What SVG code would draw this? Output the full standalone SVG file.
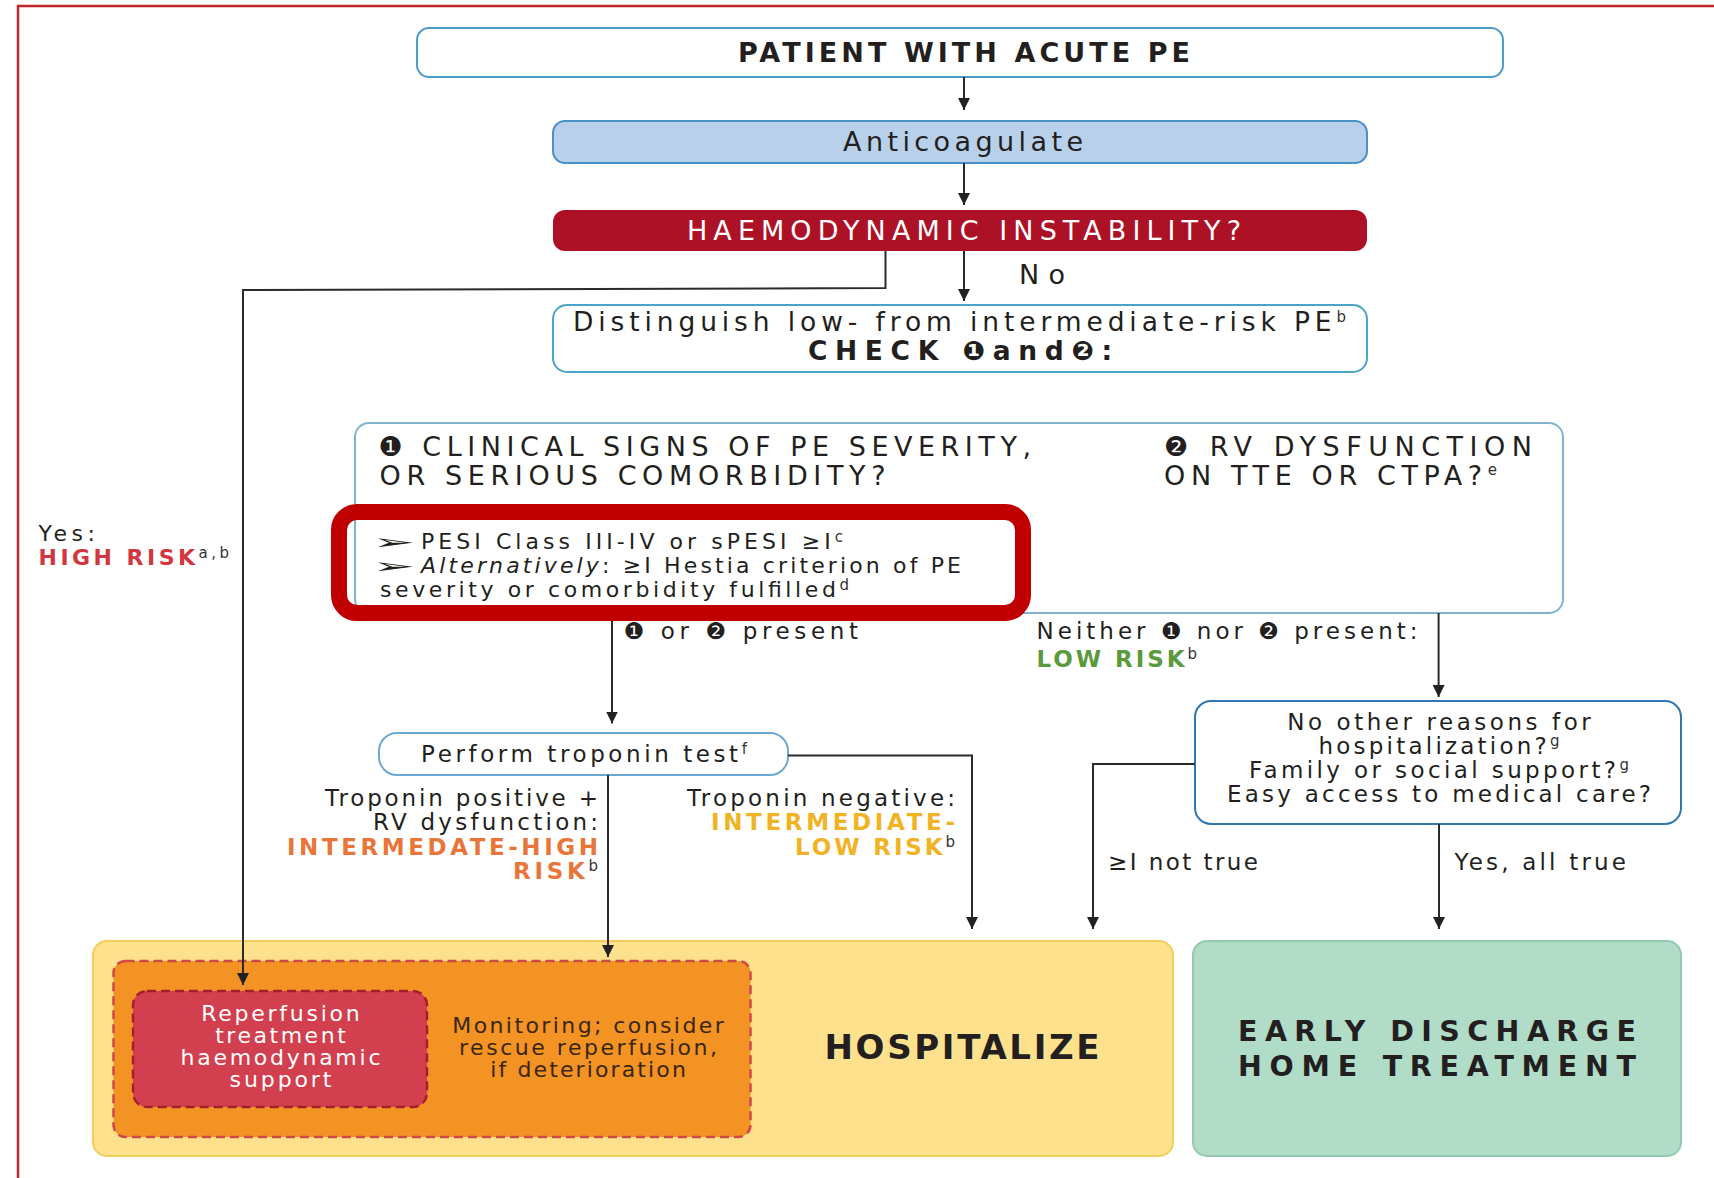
<svg xmlns="http://www.w3.org/2000/svg" width="1714" height="1178" viewBox="0 0 1714 1178">
<style>
text{font-family:"DejaVu Sans","Liberation Sans",Arial,sans-serif;fill:#231f20}
.b{font-weight:bold}
.sup{font-size:15px;fill:#333;font-weight:normal}
.ln{fill:none;stroke:#2b2b2b;stroke-width:2}
.box{fill:#fff;stroke-width:2}
.w{fill:#fff}
.mon{fill:#3a2613}
.bul{font-size:19px;font-weight:bold}
</style>
<defs>
<marker id="ah" markerUnits="userSpaceOnUse" markerWidth="13" markerHeight="12" refX="12" refY="6" orient="auto">
<path d="M0,0 L12,6 L0,12 z" fill="#222"/>
</marker>
</defs>
<rect x="0" y="0" width="1714" height="1178" fill="#fff"/>
<rect x="18" y="6" width="1740" height="1220" fill="none" stroke="#c1272d" stroke-width="2.5"/>

<g id="patient">
<rect class="box" x="417" y="28" width="1086" height="49" rx="12" stroke="#4b9cc6"/>
<text class="b" x="738" y="61.5" font-size="27" textLength="452" lengthAdjust="spacing">PATIENT WITH ACUTE PE</text>
</g>

<g id="anticoagulate">
<rect x="553" y="121" width="814" height="42" rx="12" fill="#b8d0ea" stroke="#4a8fc8" stroke-width="2"/>
<text x="843" y="151" font-size="27" textLength="240" lengthAdjust="spacing">Anticoagulate</text>
</g>

<g id="instability">
<rect x="553" y="210" width="814" height="41" rx="12" fill="#ad1126"/>
<text class="w" x="687" y="240" font-size="27" textLength="554" lengthAdjust="spacing">HAEMODYNAMIC INSTABILITY?</text>
</g>

<g id="label-no">
<text x="1019" y="283.5" font-size="27" textLength="46" lengthAdjust="spacing">No</text>
</g>

<g id="label-yes">
<text x="38.5" y="541" font-size="22" textLength="56.5" lengthAdjust="spacing">Yes:</text>
<text x="38.5" y="565" font-size="22" textLength="190.5" lengthAdjust="spacing"><tspan class="b" style="fill:#d2373f">HIGH RISK</tspan><tspan class="sup" dy="-7">a,b</tspan></text>
</g>

<g id="distinguish">
<rect class="box" x="553" y="305" width="814" height="67" rx="14" stroke="#4ba3c7"/>
<text x="573" y="331" font-size="26.5" textLength="773" lengthAdjust="spacing">Distinguish low- from intermediate-risk PE<tspan class="sup" font-size="17" dy="-9">b</tspan></text>
<text class="b" x="808" y="359.5" font-size="26.5" textLength="304" lengthAdjust="spacing">CHECK ❶and❷:</text>
</g>

<g id="criteria">
<rect class="box" x="355" y="423" width="1208" height="190" rx="14" stroke="#7fb3cf"/>
<text x="378.5" y="455.5" font-size="27" textLength="652.5" lengthAdjust="spacing">❶ CLINICAL SIGNS OF PE SEVERITY,</text>
<text x="379.5" y="484.5" font-size="27" textLength="506" lengthAdjust="spacing">OR SERIOUS COMORBIDITY?</text>
<text x="1164" y="455.5" font-size="27" textLength="368" lengthAdjust="spacing">❷ RV DYSFUNCTION</text>
<text x="1164" y="484.5" font-size="27" textLength="333" lengthAdjust="spacing">ON TTE OR CTPA?<tspan class="sup" font-size="17" dy="-10">e</tspan></text>
<text class="bul" transform="translate(372,549) scale(2.7,1.05)">➢</text>
<text class="bul" transform="translate(372,573) scale(2.7,1.05)">➢</text>
<text x="421" y="549" font-size="22" textLength="422" lengthAdjust="spacing">PESI Class III-IV or sPESI ≥I<tspan class="sup" dy="-7">c</tspan></text>
<text x="421" y="573" font-size="22" textLength="540" lengthAdjust="spacing"><tspan font-style="italic">Alternatively</tspan>: ≥I Hestia criterion of PE</text>
<text x="380" y="597" font-size="22" textLength="469" lengthAdjust="spacing">severity or comorbidity fulfilled<tspan class="sup" dy="-7">d</tspan></text>
</g>

<g id="highlight">
<rect x="339" y="512" width="684" height="101" rx="18" fill="none" stroke="#c00000" stroke-width="16"/>
</g>

<g id="label-present">
<text x="623.5" y="639" font-size="23" textLength="234.5" lengthAdjust="spacing">❶ or ❷ present</text>
</g>

<g id="label-low">
<text x="1036.5" y="639" font-size="23" textLength="381" lengthAdjust="spacing">Neither ❶ nor ❷ present:</text>
<text x="1036.5" y="666.7" font-size="23" textLength="160.5" lengthAdjust="spacing"><tspan class="b" style="fill:#5b9a3c">LOW RISK</tspan><tspan class="sup" dy="-8">b</tspan></text>
</g>

<g id="troponin">
<rect class="box" x="379" y="733" width="409" height="42" rx="18" stroke="#6ea7d0"/>
<text x="421" y="761.5" font-size="23" textLength="326" lengthAdjust="spacing">Perform troponin test<tspan class="sup" dy="-8">f</tspan></text>
</g>

<g id="label-inthigh" text-anchor="end">
<text x="598" y="806" font-size="23" textLength="273" lengthAdjust="spacing">Troponin positive +</text>
<text x="598" y="830" font-size="23" textLength="225" lengthAdjust="spacing">RV dysfunction:</text>
<text class="b" x="598" y="854.5" font-size="23" style="fill:#e8763a" textLength="311" lengthAdjust="spacing">INTERMEDATE-HIGH</text>
<text x="598" y="878.5" font-size="23" textLength="85" lengthAdjust="spacing"><tspan class="b" style="fill:#e8763a">RISK</tspan><tspan class="sup" dy="-8">b</tspan></text>
</g>

<g id="label-intlow" text-anchor="end">
<text x="955" y="806" font-size="23" textLength="268" lengthAdjust="spacing">Troponin negative:</text>
<text class="b" x="955" y="830" font-size="23" style="fill:#f0b323" textLength="244" lengthAdjust="spacing">INTERMEDIATE-</text>
<text x="955" y="854.5" font-size="23" textLength="160" lengthAdjust="spacing"><tspan class="b" style="fill:#f0b323">LOW RISK</tspan><tspan class="sup" dy="-8">b</tspan></text>
</g>

<g id="discharge-check" text-anchor="middle">
<rect class="box" x="1195" y="701" width="486" height="123" rx="16" stroke="#2f76b2"/>
<text x="1439" y="729.5" font-size="23" textLength="303.5" lengthAdjust="spacing">No other reasons for</text>
<text x="1439" y="753.5" font-size="23" textLength="241" lengthAdjust="spacing">hospitalization?<tspan class="sup" dy="-8">g</tspan></text>
<text x="1439" y="777.5" font-size="23" textLength="380" lengthAdjust="spacing">Family or social support?<tspan class="sup" dy="-8">g</tspan></text>
<text x="1439" y="801.7" font-size="23" textLength="424" lengthAdjust="spacing">Easy access to medical care?</text>
</g>

<g id="label-nottrue">
<text x="1108" y="870" font-size="23" textLength="150" lengthAdjust="spacing">≥I not true</text>
</g>
<g id="label-alltrue">
<text x="1454.5" y="870" font-size="23" textLength="171.5" lengthAdjust="spacing">Yes, all true</text>
</g>

<g id="hospitalize">
<rect x="93" y="941" width="1080" height="215" rx="14" fill="#fde18d" stroke="#f3cd5b" stroke-width="2"/>
<text class="b" x="824.5" y="1059" font-size="34" textLength="275" lengthAdjust="spacing">HOSPITALIZE</text>
</g>

<g id="monitoring" text-anchor="middle">
<rect x="113.5" y="961" width="637" height="176" rx="12" fill="#f39323" stroke="#d1474a" stroke-width="2.5" stroke-dasharray="9,5"/>
<text class="mon" x="588" y="1032.7" font-size="22" textLength="271.5" lengthAdjust="spacing">Monitoring; consider</text>
<text class="mon" x="588" y="1055" font-size="22" textLength="258" lengthAdjust="spacing">rescue reperfusion,</text>
<text class="mon" x="588" y="1076.7" font-size="22" textLength="195.7" lengthAdjust="spacing">if deterioration</text>
</g>

<g id="reperfusion" text-anchor="middle">
<rect x="133" y="991" width="294" height="116" rx="14" fill="#d2404f" stroke="#a41e2e" stroke-width="2.5" stroke-dasharray="9,5"/>
<text class="w" x="280.5" y="1020.7" font-size="22" textLength="158.5" lengthAdjust="spacing">Reperfusion</text>
<text class="w" x="280.5" y="1042.7" font-size="22" textLength="130.6" lengthAdjust="spacing">treatment</text>
<text class="w" x="280.5" y="1065" font-size="22" textLength="200" lengthAdjust="spacing">haemodynamic</text>
<text class="w" x="280.5" y="1086.7" font-size="22" textLength="101.8" lengthAdjust="spacing">support</text>
</g>

<g id="early-discharge" text-anchor="middle">
<rect x="1193" y="941" width="488" height="215" rx="14" fill="#b1dcc7" stroke="#92c9b0" stroke-width="2"/>
<text class="b" x="1437" y="1041" font-size="28.5" textLength="398" lengthAdjust="spacing">EARLY DISCHARGE</text>
<text class="b" x="1437" y="1075.5" font-size="28.5" textLength="398" lengthAdjust="spacing">HOME TREATMENT</text>
</g>

<g id="connectors">
<path class="ln" d="M964 77 V110" marker-end="url(#ah)"/>
<path class="ln" d="M964 163 V205" marker-end="url(#ah)"/>
<path class="ln" d="M964 251 V301" marker-end="url(#ah)"/>
<path class="ln" d="M885.5 251 V288 L243 290 V985" marker-end="url(#ah)"/>
<path class="ln" d="M612 621 V723.5" marker-end="url(#ah)"/>
<path class="ln" d="M1438.6 613 V697" marker-end="url(#ah)"/>
<path class="ln" d="M608 775 V957" marker-end="url(#ah)"/>
<path class="ln" d="M788 755.5 H972 V929" marker-end="url(#ah)"/>
<path class="ln" d="M1195 764 H1093 V929" marker-end="url(#ah)"/>
<path class="ln" d="M1439 824 V929" marker-end="url(#ah)"/>
</g>
</svg>
